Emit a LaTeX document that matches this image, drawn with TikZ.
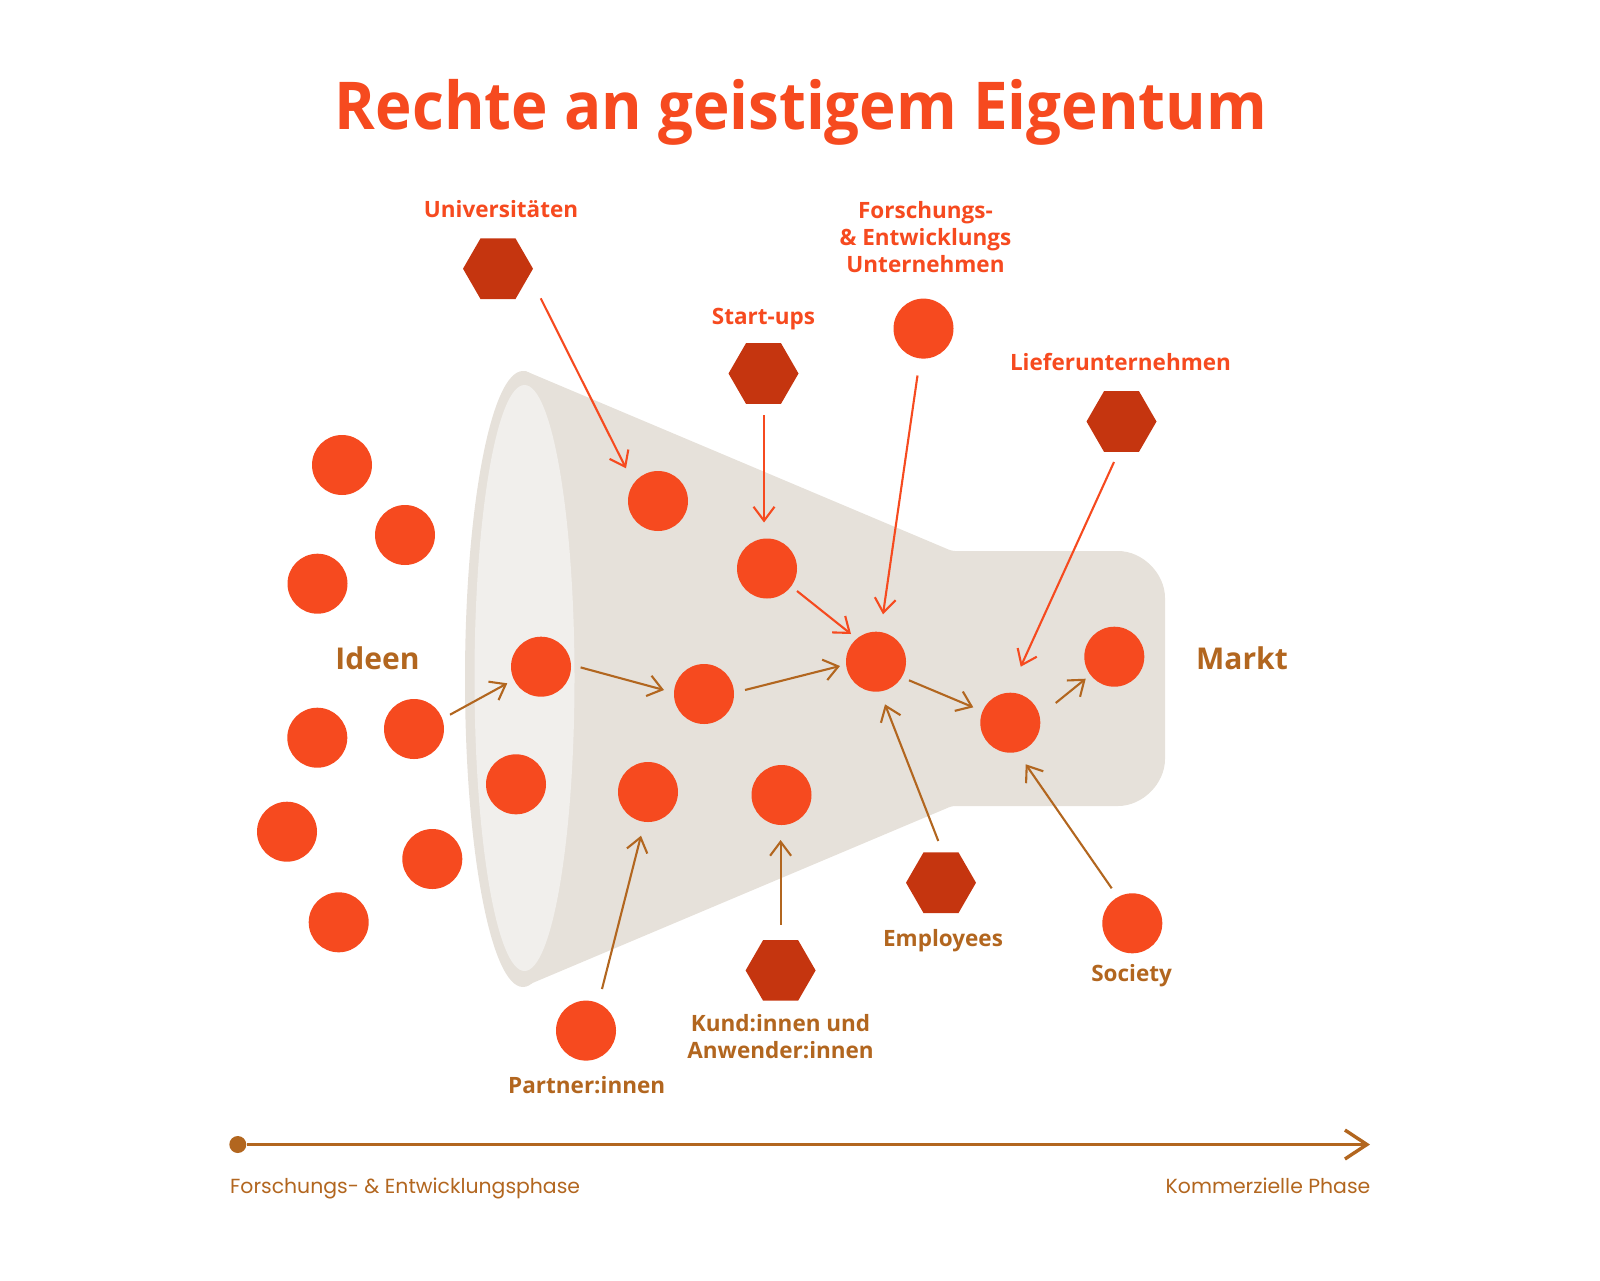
\documentclass[tikz,border=0pt]{standalone}
\usepackage{fontspec}
\setmainfont{Open Sans}
\newfontfamily\phasefont{Poppins}
\usetikzlibrary{arrows.meta,shapes.geometric,calc}
\definecolor{orangeR}{HTML}{F64A1F}
\definecolor{hexR}{HTML}{C5350F}
\definecolor{brownR}{HTML}{B2661F}
\definecolor{funnelD}{HTML}{E6E1DA}
\definecolor{funnelL}{HTML}{F1EFEC}
\tikzset{
  idea/.style={circle,fill=orangeR,minimum size=60pt,inner sep=0pt},
  actor/.style={regular polygon,regular polygon sides=6,fill=hexR,minimum size=70pt,inner sep=0pt},
  arr/.style={line width=2.1pt,-{Straight Barb[length=14pt,width=21pt,line width=2.1pt]}},
  arrO/.style={arr,draw=orangeR},
  arrB/.style={arr,draw=brownR},
  labO/.style={text=orangeR,font=\fontsize{22.5}{27}\selectfont\bfseries,align=center,inner sep=0pt},
  labB/.style={text=brownR,font=\fontsize{22.5}{27}\selectfont\bfseries,align=center,inner sep=0pt},
  labBig/.style={text=brownR,font=\fontsize{30}{36}\selectfont\bfseries,inner sep=0pt},
  phase/.style={text=brownR,font=\fontsize{20.4}{25}\selectfont\phasefont,inner sep=0pt},
}
\begin{document}
\begin{tikzpicture}[x=1pt,y=-1pt]
\useasboundingbox (0,0) rectangle (1600,1280);
% funnel
\fill[funnelD,rounded corners=3pt] (523,370) -- (952,551) -- (1115,551)
  arc[start angle=90,end angle=0,x radius=50,y radius=-50]
  -- (1165,756) arc[start angle=0,end angle=-90,x radius=50,y radius=-50]
  -- (952,806) -- (523,987) -- cycle;
\fill[funnelD] (523,679) ellipse [x radius=58,y radius=308];
\fill[funnelL] (524.5,678) ellipse [x radius=50,y radius=293];
% title
\node[text=orangeR,font=\fontsize{66}{80}\selectfont\bfseries,inner sep=0pt] (title) at (801,112) {\scalebox{.937}[1]{Rechte an geistigem Eigentum}};
% free circles
\node[idea] (i1) at (342,465) {};
\node[idea] (i2) at (405,535) {};
\node[idea] (i3) at (317.5,583.7) {};
\node[idea] (i4) at (317.3,737.7) {};
\node[idea] (i5) at (414,729) {};
\node[idea] (i6) at (287,831.7) {};
\node[idea] (i7) at (432.3,859) {};
\node[idea] (i8) at (338.7,922.3) {};
\node[idea] (i9) at (516,784.3) {};
\node[idea] (i10) at (541,666.7) {};
\node[idea] (i11) at (658,501) {};
\node[idea] (i12) at (767,568.5) {};
\node[idea] (i13) at (704,694) {};
\node[idea] (i14) at (648,792) {};
\node[idea] (i15) at (781.5,795) {};
\node[idea] (i16) at (876,661.7) {};
\node[idea] (i17) at (1010.3,722.7) {};
\node[idea] (i18) at (1114.3,656.7) {};
% actors
\node[actor] (uni) at (498,268.7) {};
\node[actor] (start) at (763.5,373.5) {};
\node[idea] (fe) at (923.5,328.6) {};
\node[actor] (lief) at (1121.5,421.5) {};
\node[actor] (empl) at (941,882.7) {};
\node[idea] (soc) at (1132.3,923.3) {};
\node[actor] (kund) at (780.6,970.4) {};
\node[idea] (part) at (586,1030.6) {};
% connectors, orange
\draw[arrO] ($(uni)+(42.7,29.6)$) -- ($(i11)+(-32,-32.7)$);
\draw[arrO] ($(start)+(0.5,41.5)$) -- ($(i12)+(-3,-46)$);
\draw[arrO] ($(i12)+(30,22.5)$) -- ($(i16)+(-25,-27.7)$);
\draw[arrO] ($(fe)+(-6,46.9)$) -- ($(i16)+(7,-47.4)$);
\draw[arrO] ($(lief)+(-7.5,40.5)$) -- ($(i17)+(10.4,-56)$);
% connectors, brown
\draw[arrB] ($(i5)+(36,-14.3)$) -- ($(i10)+(-33.7,16.6)$);
\draw[arrB] ($(i10)+(39.6,0.7)$) -- ($(i13)+(-40,-4)$);
\draw[arrB] ($(i13)+(41,-4)$) -- ($(i16)+(-36,4.3)$);
\draw[arrB] ($(i16)+(33,18.6)$) -- ($(i17)+(-37,-15.4)$);
\draw[arrB] ($(i17)+(45.4,-19.7)$) -- ($(i18)+(-28.6,22)$);
\draw[arrB] ($(empl)+(-2.7,-41.7)$) -- ($(i16)+(9,42.6)$);
\draw[arrB] ($(soc)+(-20.6,-35)$) -- ($(i17)+(15.4,41.6)$);
\draw[arrB] ($(part)+(16,-41.6)$) -- ($(i14)+(-7,43.7)$);
\draw[arrB] ($(kund)+(0,-45.9)$) -- ($(i15)+(-0.9,45)$);
% labels
\node[labO] (luni) at (501,209) {Universitäten};
\node[labO] (lstart) at (763.5,319.5) {Start-ups};
\node[labO] (lfe) at (925.5,236.7) {Forschungs-\\\& Entwicklungs\\Unternehmen};
\node[labO] (llief) at (1120.5,362) {Lieferunternehmen};
\node[labBig] (lid) at (377.5,658) {Ideen};
\node[labBig] (lma) at (1242,658) {Markt};
\node[labB] (lem) at (943,941) {Employees};
\node[labB] (lso) at (1131.6,975.5) {Society};
\node[labB] (lku) at (780.6,1037) {Kund:innen und\\Anwender:innen};
\node[labB] (lpa) at (586.7,1085) {Partner:innen};
% timeline
\node[circle,fill=brownR,minimum size=17pt,inner sep=0pt] (tdot) at (237.8,1144.5) {};
\coordinate (tend) at (1370,1144.5);
\draw[brownR,line width=2.8pt,-{Straight Barb[length=22pt,width=29pt,line width=3.4pt]}] (tdot) -- (tend);
\node[phase,anchor=base west] (pl) at (230,1193) {Forschungs- \& Entwicklungsphase};
\node[phase,anchor=base east] (pr) at (1370.5,1193) {Kommerzielle Phase};
\end{tikzpicture}
\end{document}
